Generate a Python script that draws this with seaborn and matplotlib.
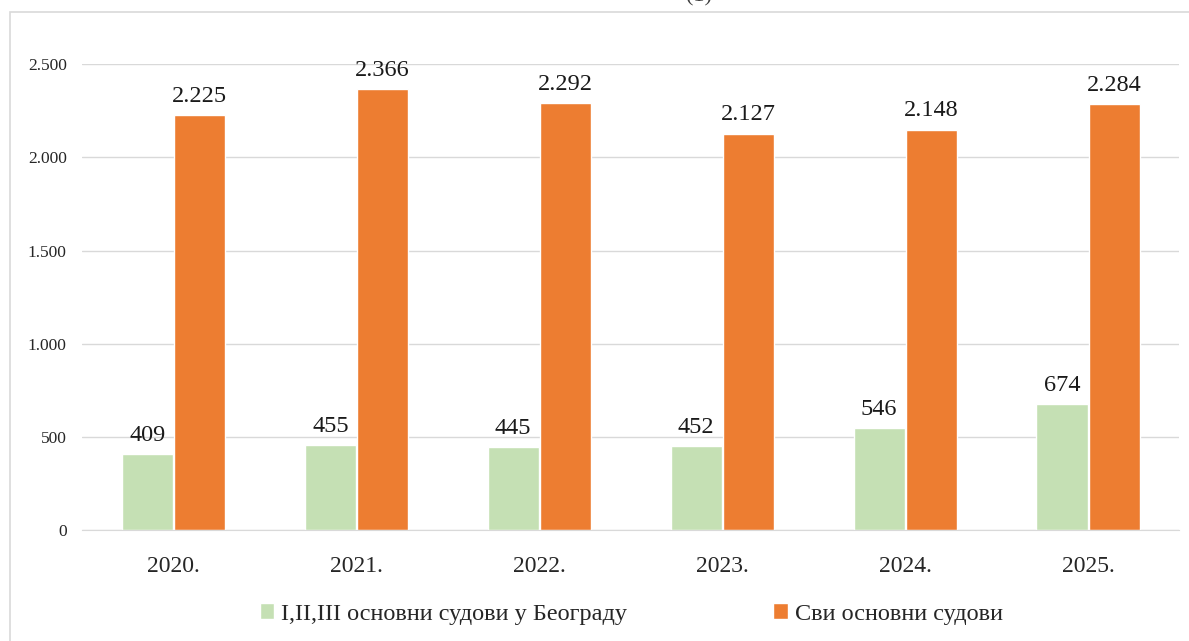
import matplotlib
matplotlib.use('Agg')
import matplotlib.pyplot as plt
import matplotlib.patches as mpatches
import seaborn as sns
import pandas as pd

years = ['2020.', '2021.', '2022.', '2023.', '2024.', '2025.']
beograd = [409, 455, 445, 452, 546, 674]
svi = [2225, 2366, 2292, 2127, 2148, 2284]
series_names = ['I,II,III основни судови у Београду', 'Сви основни судови']
colors = ['#C5E0B4', '#ED7D31']

df = pd.DataFrame({
    'year': years * 2,
    'value': beograd + svi,
    'series': [series_names[0]] * len(years) + [series_names[1]] * len(years),
})


def fmt(v):
    return f'{int(v):,}'.replace(',', '.')


sns.set_style('white')
plt.rcParams['font.family'] = ['Liberation Serif', 'DejaVu Serif']

fig = plt.figure(figsize=(11.89, 6.41), dpi=100)
ax = fig.add_axes([0.069, 0.173, 0.923, 0.727])

# outer light frame (chart area border, partly cut off)
fig.patches.append(mpatches.Rectangle((10 / 1189, -0.1), 1.2, 1.1 - 12 / 641,
                                      transform=fig.transFigure, fill=False,
                                      edgecolor='#d9d9d9', linewidth=1.2))
fig.text(0.588, 1.005, '(1)', ha='center', va='center', fontsize=16, color='#404040')

sns.barplot(data=df, x='year', y='value', hue='series', palette=colors,
            width=0.57, gap=0.02, ax=ax, legend=True, saturation=1)

for cont in ax.containers:
    ax.bar_label(cont, labels=[fmt(v) for v in cont.datavalues], padding=6,
                 fontsize=17.5, color='#1a1a1a')

ax.set_ylim(0, 2500)
ax.set_yticks(range(0, 2501, 500))
ax.set_yticklabels([fmt(v) for v in range(0, 2501, 500)], fontsize=12.5)
ax.tick_params(axis='x', labelsize=17, length=0, pad=19)
ax.tick_params(axis='y', length=0, pad=11)
ax.yaxis.grid(True, color='#d9d9d9', linewidth=1)
ax.set_axisbelow(True)
ax.set_xlim(-0.5, len(years) - 0.5)
for s in ['top', 'right', 'left']:
    ax.spines[s].set_visible(False)
ax.spines['bottom'].set_color('#d9d9d9')
ax.set_xlabel('')
ax.set_ylabel('')

handles, labels = ax.get_legend_handles_labels()
ax.legend_.remove()
fig.legend(handles, labels, loc='center', bbox_to_anchor=(0.531, 0.042), ncol=2,
           frameon=False, fontsize=17.5, handlelength=0.6, handleheight=0.6,
           handletextpad=0.3, columnspacing=6.0)

fig.savefig('out.png', dpi=100)
